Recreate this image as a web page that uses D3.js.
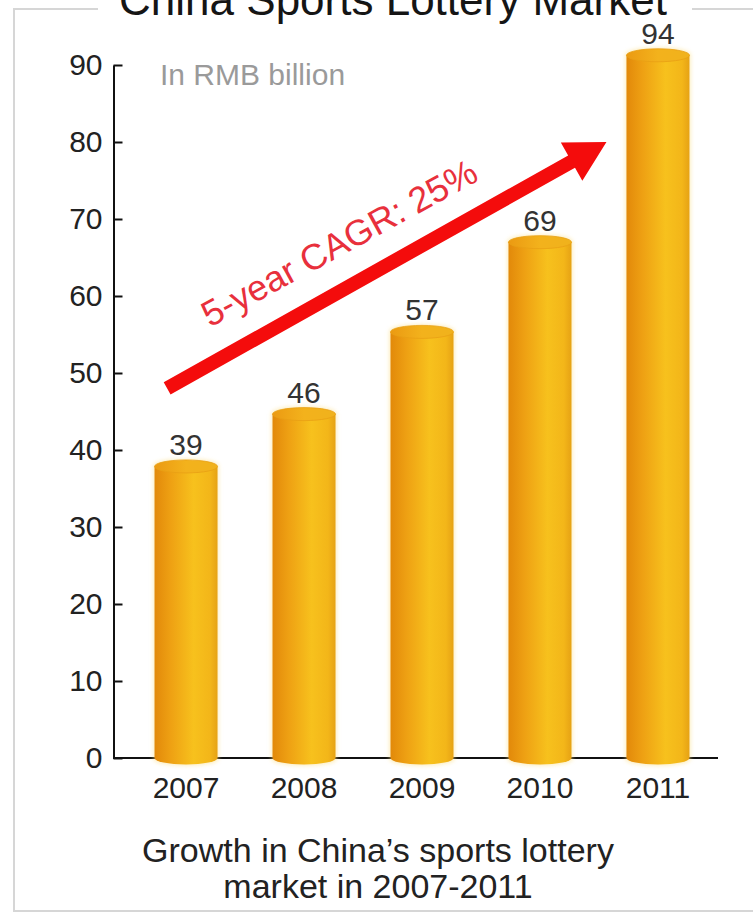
<!DOCTYPE html>
<html>
<head>
<meta charset="utf-8">
<script src="https://cdn.jsdelivr.net/npm/d3@7"></script>
<style>
  html, body { margin: 0; padding: 0; background: #fff; }
  svg { display: block; }
  text { font-family: "Liberation Sans", Arial, sans-serif; }
</style>
</head>
<body>
<svg id="chart" width="753" height="920"></svg>
<script>
// ---- data ----
const years = ["2007", "2008", "2009", "2010", "2011"];
const values = [39, 46, 57, 69, 94];
const yTicks = [0, 10, 20, 30, 40, 50, 60, 70, 80, 90];
const titleText = "China Sports Lottery Market";
const unitText = "In RMB billion";
const cagrText = "5-year CAGR: 25%";
const captionLines = ["Growth in China\u2019s sports lottery", "market in 2007-2011"];
// arrow annotation expressed in data terms (value at tail / head)
const arrowFromValue = 48;
const arrowToValue = 80;

// ---- setup ----
const svg = d3.select("#chart");
const W = 753, H = 920;
svg.append("rect").attr("width", W).attr("height", H).attr("fill", "#fff");

const y = d3.scaleLinear().domain([0, 90]).range([758, 65]);
// the source picture draws its cylinders slightly compressed against the axis
const yBar = d3.scaleLinear().domain([0, 92.7]).range([758, 65]);
const x = d3.scaleBand().domain(years).range([113, 731])
  .paddingInner(0.466).paddingOuter(0.352);
const bw = x.bandwidth();

// frame + title
svg.append("rect").attr("x", 14).attr("y", 9).attr("width", 760).attr("height", 902)
  .attr("fill", "none").attr("stroke", "#d6d6d6").attr("stroke-width", 2);
svg.append("rect").attr("x", 98).attr("y", 0).attr("width", 594).attr("height", 22).attr("fill", "#fff");
svg.append("text").attr("x", 393).attr("y", 15).attr("text-anchor", "middle")
  .attr("font-size", 44).attr("fill", "#151515").text(titleText);

// defs: bar gradient
const defs = svg.append("defs");
const g1 = defs.append("linearGradient").attr("id", "barGrad").attr("x1", "0%").attr("x2", "100%");
[["0%", "#e2890a"], ["25%", "#eea013"], ["62%", "#f7c11d"], ["88%", "#f3b619"], ["100%", "#e6a214"]]
  .forEach(([o, c]) => g1.append("stop").attr("offset", o).attr("stop-color", c));
const g2 = defs.append("linearGradient").attr("id", "topGrad").attr("x1", "0%").attr("x2", "100%");
[["0%", "#eb9a12"], ["50%", "#f3b21c"], ["100%", "#f0b21c"]]
  .forEach(([o, c]) => g2.append("stop").attr("offset", o).attr("stop-color", c));
const blur = defs.append("filter").attr("id", "glow").attr("x", "-20%").attr("y", "-10%")
  .attr("width", "140%").attr("height", "120%");
blur.append("feGaussianBlur").attr("stdDeviation", 2);

// y axis
const yAxis = d3.axisLeft(y).tickValues(yTicks).tickSizeInner(-9).tickSizeOuter(0).tickPadding(11);
const ga = svg.append("g").attr("transform", "translate(113.5,0)").call(yAxis);
ga.select(".domain").attr("stroke", "#111").attr("stroke-width", 2);
ga.selectAll(".tick line").attr("stroke", "#111").attr("stroke-width", 2);
ga.selectAll(".tick text").attr("font-size", 30).attr("fill", "#222")
  .attr("font-family", "'Liberation Sans', Arial, sans-serif");

// x axis line
svg.append("line").attr("x1", 113).attr("x2", 718).attr("y1", y(0)).attr("y2", y(0))
  .attr("stroke", "#111").attr("stroke-width", 2);

// bars (cylinders)
const ry = 6.5;
const bars = svg.append("g").selectAll("g").data(years.map((yr, i) => ({ yr, v: values[i] })))
  .join("g");
// soft glow
bars.append("rect")
  .attr("x", d => x(d.yr) - 1).attr("width", bw + 2)
  .attr("y", d => yBar(d.v) - ry - 1).attr("height", d => yBar(0) - yBar(d.v) + 2 * ry + 2)
  .attr("rx", bw / 2).attr("ry", ry)
  .attr("fill", "#fbe08a").attr("opacity", 0.6).attr("filter", "url(#glow)");
// body
bars.append("path")
  .attr("d", d => {
    const x0 = x(d.yr), x1 = x0 + bw, top = yBar(d.v), bot = yBar(0);
    return `M${x0},${top} L${x0},${bot} A${bw / 2},${ry} 0 0 0 ${x1},${bot} L${x1},${top} Z`;
  })
  .attr("fill", "url(#barGrad)");
// top ellipse
bars.append("ellipse")
  .attr("cx", d => x(d.yr) + bw / 2).attr("cy", d => yBar(d.v))
  .attr("rx", bw / 2).attr("ry", ry)
  .attr("fill", "url(#topGrad)").attr("stroke", "#e9a014").attr("stroke-width", 0.8);

// value labels
bars.append("text")
  .attr("x", d => x(d.yr) + bw / 2).attr("y", d => yBar(d.v) - ry - 5)
  .attr("text-anchor", "middle").attr("font-size", 30).attr("fill", "#333")
  .text(d => d.v);

// year labels
svg.append("g").selectAll("text").data(years).join("text")
  .attr("x", d => x(d) + bw / 2).attr("y", 798)
  .attr("text-anchor", "middle").attr("font-size", 30).attr("fill", "#222")
  .text(d => d);

// unit label
svg.append("text").attr("x", 160).attr("y", 85).attr("font-size", 30).attr("fill", "#9a9a9a")
  .text(unitText);

// arrow
const T = [x(years[0]) + bw * 0.2, y(arrowFromValue)];
const P = [x(years[4]) - 20, y(arrowToValue)];
const dx = P[0] - T[0], dy = P[1] - T[1], L = Math.hypot(dx, dy);
const u = [dx / L, dy / L], n = [-u[1], u[0]];
const sw = 7, hl = 40, hw = 22;
const B = [P[0] - u[0] * hl, P[1] - u[1] * hl];
const pt = (p, k) => [p[0] + n[0] * k, p[1] + n[1] * k];
const poly = [pt(T, sw), pt(B, sw), pt(B, hw), P, pt(B, -hw), pt(B, -sw), pt(T, -sw)];
svg.append("path").attr("d", "M" + poly.map(p => p.join(",")).join("L") + "Z")
  .attr("fill", "#f40c0c");

// CAGR text
const ang = Math.atan2(dy, dx) * 180 / Math.PI;
const S = [T[0] + u[0] * 67 - n[0] * 32, T[1] + u[1] * 67 - n[1] * 32];
svg.append("text")
  .attr("transform", `translate(${S[0]},${S[1]}) rotate(${ang + 0.6})`)
  .attr("font-size", 36).attr("fill", "#e8303c").text(cagrText);

// caption
svg.append("g").selectAll("text").data(captionLines).join("text")
  .attr("x", 378).attr("y", (d, i) => 862 + i * 36)
  .attr("text-anchor", "middle").attr("font-size", 34).attr("fill", "#222")
  .text(d => d);
</script>
</body>
</html>
